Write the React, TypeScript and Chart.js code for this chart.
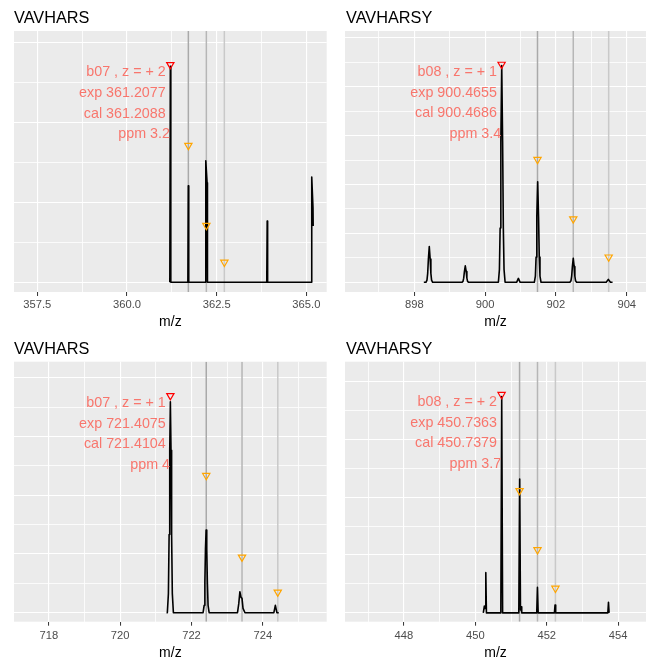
import React, { useEffect, useRef } from "react";
import { Chart, registerables } from "chart.js";

Chart.register(...registerables);

const FONT = '"Liberation Sans", Arial, Helvetica, sans-serif';

// ---------------- Panel 1 : VAVHARS b07 z=+2 ----------------
const p1Title = "VAVHARS";
const p1Mz = [361.194, 361.208, 361.222, 361.697, 361.709, 361.721, 362.185, 362.196, 362.233, 362.243, 363.896, 363.908, 363.92, 365.139, 365.15, 365.185, 365.19];
const p1Int = [0, 5.4, 0, 0, 2.41, 0, 0, 3.04, 2.49, 0, 0, 1.53, 0, 0, 2.63, 1.86, 1.41];
const p1RedMz = [361.2077];
const p1RedInt = [5.44];
const p1IsoMz = [361.7105, 362.2122, 362.7139];
const p1IsoInt = [3.42, 1.42, 0.5];
const p1Labels = ["b07 , z = + 2", "exp 361.2077", "cal 361.2088", "ppm 3.2"];
const p1XTicks = [357.5, 358.75, 360, 361.25, 362.5, 363.75, 365];
const p1XMajor = [357.5, 360, 362.5, 365];
const p1YTicks = [0, 1, 2, 3, 4, 5, 6];

// ---------------- Panel 2 : VAVHARSY b08 z=+1 ----------------
const p2Title = "VAVHARSY";
const p2Mz = [
  898.27, 898.329, 898.359, 898.379, 898.399, 898.424, 898.449, 898.469, 898.489, 898.519,
  899.346, 899.376, 899.396, 899.416, 899.441, 899.466, 899.486, 899.506, 899.536,
  900.375, 900.405, 900.425, 900.445, 900.47, 900.495, 900.515, 900.535, 900.565,
  900.89, 900.94, 900.99,
  901.39, 901.42, 901.44, 901.46, 901.485, 901.51, 901.53, 901.55, 901.58,
  902.395, 902.425, 902.445, 902.465, 902.49, 902.515, 902.535, 902.555, 902.585,
  903.42, 903.48, 903.54, 903.6,
];
const p2Int = [
  0, 0, 0.088, 0.365, 0.95, 1.46, 0.95, 0.365, 0.088, 0,
  0, 0.04, 0.17, 0.44, 0.67, 0.44, 0.17, 0.04, 0,
  0, 0.53, 2.22, 5.76, 8.86, 5.76, 2.22, 0.53, 0,
  0, 0.16, 0,
  0, 0.25, 1.03, 2.67, 4.11, 2.67, 1.03, 0.25, 0,
  0, 0.06, 0.25, 0.64, 0.98, 0.64, 0.25, 0.06, 0,
  0, 0.12, 0, 0,
];
const p2RedMz = [900.4655];
const p2RedInt = [8.91];
const p2IsoMz = [901.48, 902.49, 903.49];
const p2IsoInt = [5.02, 2.59, 1.03];
const p2Labels = ["b08 , z = + 1", "exp 900.4655", "cal 900.4686", "ppm 3.4"];
const p2XTicks = [897, 898, 899, 900, 901, 902, 903, 904];
const p2XMajor = [898, 900, 902, 904];
const p2YTicks = [0, 1, 2, 3, 4, 5, 6, 7, 8, 9, 10];

// ---------------- Panel 3 : VAVHARS b07 z=+1 ----------------
const p3Title = "VAVHARS";
const p3Mz = [
  721.3, 721.3225, 721.3525, 721.3725, 721.3895, 721.4075, 721.4255, 721.4425, 721.4625, 721.4925,
  722.315, 722.325, 722.355, 722.375, 722.392, 722.41, 722.428, 722.445, 722.465, 722.495,
  723.29, 723.325, 723.357, 723.39, 723.417, 723.445, 723.5,
  724.31, 724.352, 724.395, 724.447,
];
const p3Int = [
  0, 0, 0.65, 2.66, 5.53, 7.18, 5.53, 2.66, 0.65, 0,
  0, 0, 0.25, 1.04, 2.17, 2.815, 2.17, 1.04, 0.25, 0,
  0, 0.3, 0.715, 0.52, 0.49, 0.15, 0,
  0, 0.25, 0, 0,
];
const p3RedMz = [721.4075];
const p3RedInt = [7.39];
const p3IsoMz = [722.414, 723.417, 724.42];
const p3IsoInt = [4.67, 1.89, 0.7];
const p3Labels = ["b07 , z = + 1", "exp 721.4075", "cal 721.4104", "ppm 4"];
const p3XTicks = [718, 719, 720, 721, 722, 723, 724, 725];
const p3XMajor = [718, 720, 722, 724];
const p3YTicks = [0, 1, 2, 3, 4, 5, 6, 7, 8];

// ---------------- Panel 4 : VAVHARSY b08 z=+2 ----------------
const p4Title = "VAVHARSY";
const p4Mz = [
  450.225, 450.24, 450.255, 450.28, 450.295, 450.312,
  450.715, 450.74, 450.765,
  451.218, 451.243, 451.265, 451.285, 451.3,
  451.72, 451.74, 451.76,
  452.215, 452.232, 452.25,
  453.71, 453.728, 453.745, 453.77,
];
const p4Int = [
  0, 0, 0.24, 0.15, 1.39, 0,
  0, 7.47, 0,
  0, 4.62, 0.1, 0.21, 0,
  0, 0.88, 0,
  0, 0.27, 0,
  0, 0.37, 0, 0,
];
const p4RedMz = [450.7363];
const p4RedInt = [7.54];
const p4IsoMz = [451.2396, 451.7413, 452.243];
const p4IsoInt = [4.22, 2.18, 0.85];
const p4Labels = ["b08 , z = + 2", "exp 450.7363", "cal 450.7379", "ppm 3.7"];
const p4XTicks = [447, 448, 449, 450, 451, 452, 453, 454];
const p4XMajor = [448, 450, 452, 454];
const p4YTicks = [0, 1, 2, 3, 4, 5, 6, 7, 8];

// ---------------- layout (positions / sizes / scale ranges) ----------------
type Frame = {
  left: number; top: number; w: number; h: number;
  pl: number; pt: number; pr: number; pb: number;
  xMin: number; xMax: number; yMin: number; yMax: number;
  tickPad: number; axisTitlePad: number; titleX: number; titleBase: number;
  xDecimals: number;
};

const FRAMES: Frame[] = [
  { left: 0, top: 0, w: 330, h: 331, pl: 14, pt: 31, pr: 326.7, pb: 292, xMin: 356.85, xMax: 365.567, yMin: -0.2425, yMax: 6.2825, tickPad: 2.5, axisTitlePad: 0, titleX: 14, titleBase: 23.3, xDecimals: 1 },
  { left: 330, top: 0, w: 316, h: 331, pl: 345, pt: 31, pr: 646, pb: 292, xMin: 896.044, xMax: 904.544, yMin: -0.3966, yMax: 10.274, tickPad: 2.5, axisTitlePad: 0, titleX: 346, titleBase: 23.3, xDecimals: 0 },
  { left: 0, top: 331, w: 330, h: 331, pl: 14, pt: 361.7, pr: 326.7, pb: 621.7, xMin: 717.022, xMax: 725.792, yMin: -0.306, yMax: 8.545, tickPad: 3.4, axisTitlePad: 0.9, titleX: 14, titleBase: 354, xDecimals: 0 },
  { left: 330, top: 331, w: 316, h: 331, pl: 345, pt: 361.7, pr: 646, pb: 621.7, xMin: 446.354, xMax: 454.778, yMin: -0.304, yMax: 8.674, tickPad: 3.4, axisTitlePad: 0.9, titleX: 346, titleBase: 354, xDecimals: 0 },
];

const PANELS = [
  { title: p1Title, mz: p1Mz, intensity: p1Int, redMz: p1RedMz, redInt: p1RedInt, isoMz: p1IsoMz, isoInt: p1IsoInt, labels: p1Labels, xTicks: p1XTicks, xMajor: p1XMajor, yTicks: p1YTicks, frame: FRAMES[0] },
  { title: p2Title, mz: p2Mz, intensity: p2Int, redMz: p2RedMz, redInt: p2RedInt, isoMz: p2IsoMz, isoInt: p2IsoInt, labels: p2Labels, xTicks: p2XTicks, xMajor: p2XMajor, yTicks: p2YTicks, frame: FRAMES[1] },
  { title: p3Title, mz: p3Mz, intensity: p3Int, redMz: p3RedMz, redInt: p3RedInt, isoMz: p3IsoMz, isoInt: p3IsoInt, labels: p3Labels, xTicks: p3XTicks, xMajor: p3XMajor, yTicks: p3YTicks, frame: FRAMES[2] },
  { title: p4Title, mz: p4Mz, intensity: p4Int, redMz: p4RedMz, redInt: p4RedInt, isoMz: p4IsoMz, isoInt: p4IsoInt, labels: p4Labels, xTicks: p4XTicks, xMajor: p4XMajor, yTicks: p4YTicks, frame: FRAMES[3] },
];

const VLINE_COLORS = ["#a9a9a9", "#b6b6b6", "#c9c9c9"];
const LABEL_DX = [-4.6, -4.6, -4.6, -0.4];
const LABEL_DY = [11.6, 32.2, 52.8, 73.5];

function Panel({ cfg }: { cfg: any }) {
  const ref = useRef<HTMLCanvasElement>(null);

  useEffect(() => {
    const f: Frame = cfg.frame;
    const isIn = (list: number[], v: number) => list.some((m) => Math.abs(m - v) < 1e-6);
    const isMajorY = (v: number) => Math.abs(v % 2) < 1e-6;

    const datasets: any[] = [];
    datasets.push({
      label: "precursor",
      data: cfg.redMz.map((x: number, i: number) => ({ x, y: cfg.redInt[i] })),
      showLine: false,
      pointStyle: "triangle",
      pointRotation: 180,
      pointRadius: 4.2,
      pointBorderWidth: 1.2,
      borderColor: "#FF0000",
      pointBorderColor: "#FF0000",
      backgroundColor: "rgba(0,0,0,0)",
      pointBackgroundColor: "rgba(0,0,0,0)",
      order: 0,
    });
    datasets.push({
      label: "isotopes",
      data: cfg.isoMz.map((x: number, i: number) => ({ x, y: cfg.isoInt[i] })),
      showLine: false,
      pointStyle: "triangle",
      pointRotation: 180,
      pointRadius: 4.2,
      pointBorderWidth: 1.2,
      borderColor: "#FFA500",
      pointBorderColor: "#FFA500",
      backgroundColor: "rgba(0,0,0,0)",
      pointBackgroundColor: "rgba(0,0,0,0)",
      order: 1,
    });
    datasets.push({
      label: "spectrum",
      data: cfg.mz.map((x: number, i: number) => ({ x, y: cfg.intensity[i] })),
      borderColor: "#000000",
      borderWidth: 1.6,
      borderJoinStyle: "round",
      pointRadius: 0,
      tension: 0,
      fill: false,
      order: 2,
    });
    cfg.isoMz.forEach((x: number, i: number) => {
      datasets.push({
        label: "vline" + i,
        data: [{ x, y: f.yMin }, { x, y: f.yMax }],
        borderColor: VLINE_COLORS[i],
        borderWidth: 1.5,
        pointRadius: 0,
        fill: false,
        order: 3 + i,
      });
    });

    const decor = {
      id: "decor" + cfg.title + f.left + f.top,
      beforeDraw(chart: any) {
        const { ctx, chartArea } = chart;
        ctx.save();
        ctx.fillStyle = "#EBEBEB";
        ctx.fillRect(chartArea.left, chartArea.top, chartArea.right - chartArea.left, chartArea.bottom - chartArea.top);
        ctx.restore();
      },
      afterDraw(chart: any) {
        const ctx = chart.ctx;
        const xs = chart.scales.x;
        const ys = chart.scales.y;
        ctx.save();
        ctx.fillStyle = "#000000";
        ctx.font = `16.3px ${FONT}`;
        ctx.textAlign = "left";
        ctx.textBaseline = "alphabetic";
        ctx.fillText(cfg.title, f.titleX - f.left, f.titleBase - f.top);

        const px = xs.getPixelForValue(cfg.redMz[0]);
        const py = ys.getPixelForValue(cfg.redInt[0]);
        ctx.fillStyle = "#F8766D";
        ctx.font = `14.3px ${FONT}`;
        ctx.textAlign = "right";
        cfg.labels.forEach((t: string, i: number) => {
          ctx.fillText(t, px + LABEL_DX[i], py + LABEL_DY[i]);
        });
        ctx.restore();
      },
    };

    const chart = new Chart(ref.current as HTMLCanvasElement, {
      type: "line",
      data: { datasets },
      options: {
        animation: false,
        responsive: false,
        maintainAspectRatio: false,
        events: [],
        layout: {
          autoPadding: false,
          padding: {
            left: f.pl - f.left,
            top: f.pt - f.top,
            right: f.left + f.w - f.pr,
            bottom: 0,
          },
        },
        plugins: {
          legend: { display: false },
          tooltip: { enabled: false },
          title: { display: false },
        },
        scales: {
          x: {
            type: "linear",
            position: "bottom",
            min: f.xMin,
            max: f.xMax,
            afterBuildTicks: (scale: any) => {
              scale.ticks = cfg.xTicks.map((v: number) => ({ value: v }));
            },
            afterFit: (scale: any) => {
              scale.height = f.top + f.h - f.pb;
              scale.paddingLeft = 0;
              scale.paddingRight = 0;
            },
            ticks: {
              autoSkip: false,
              maxRotation: 0,
              minRotation: 0,
              padding: f.tickPad,
              color: "#4D4D4D",
              font: { family: FONT, size: 11.2, lineHeight: 1.2 },
              callback: (v: any) => (isIn(cfg.xMajor, Number(v)) ? Number(v).toFixed(f.xDecimals) : ""),
            },
            grid: {
              color: "#FFFFFF",
              lineWidth: (c: any) => (c.tick && isIn(cfg.xMajor, c.tick.value) ? 1.1 : 0.8),
              drawTicks: true,
              tickLength: 4,
              tickWidth: 1,
              tickColor: (c: any) => (c.tick && isIn(cfg.xMajor, c.tick.value) ? "#333333" : "rgba(0,0,0,0)"),
            },
            border: { display: false },
            title: {
              display: true,
              text: "m/z",
              color: "#000000",
              font: { family: FONT, size: 14, lineHeight: 1.2 },
              padding: { top: 0, bottom: f.axisTitlePad },
            },
          },
          y: {
            type: "linear",
            min: f.yMin,
            max: f.yMax,
            afterBuildTicks: (scale: any) => {
              scale.ticks = cfg.yTicks.map((v: number) => ({ value: v }));
            },
            afterFit: (scale: any) => {
              scale.width = 0;
              scale.paddingTop = 0;
              scale.paddingBottom = 0;
            },
            ticks: { display: false },
            grid: {
              color: "#FFFFFF",
              lineWidth: (c: any) => (c.tick && isMajorY(c.tick.value) ? 1.1 : 0.8),
              drawTicks: false,
            },
            border: { display: false },
          },
        },
      } as any,
      plugins: [decor],
    });
    return () => chart.destroy();
  }, [cfg]);

  const f: Frame = cfg.frame;
  return (
    <canvas
      ref={ref}
      width={f.w}
      height={f.h}
      style={{ position: "absolute", left: f.left, top: f.top, width: f.w, height: f.h }}
    />
  );
}

export default function App() {
  return (
    <div style={{ position: "absolute", left: 0, top: 0, width: 646, height: 662, background: "#FFFFFF", overflow: "hidden" }}>
      {PANELS.map((p, i) => (
        <Panel key={i} cfg={p} />
      ))}
    </div>
  );
}
